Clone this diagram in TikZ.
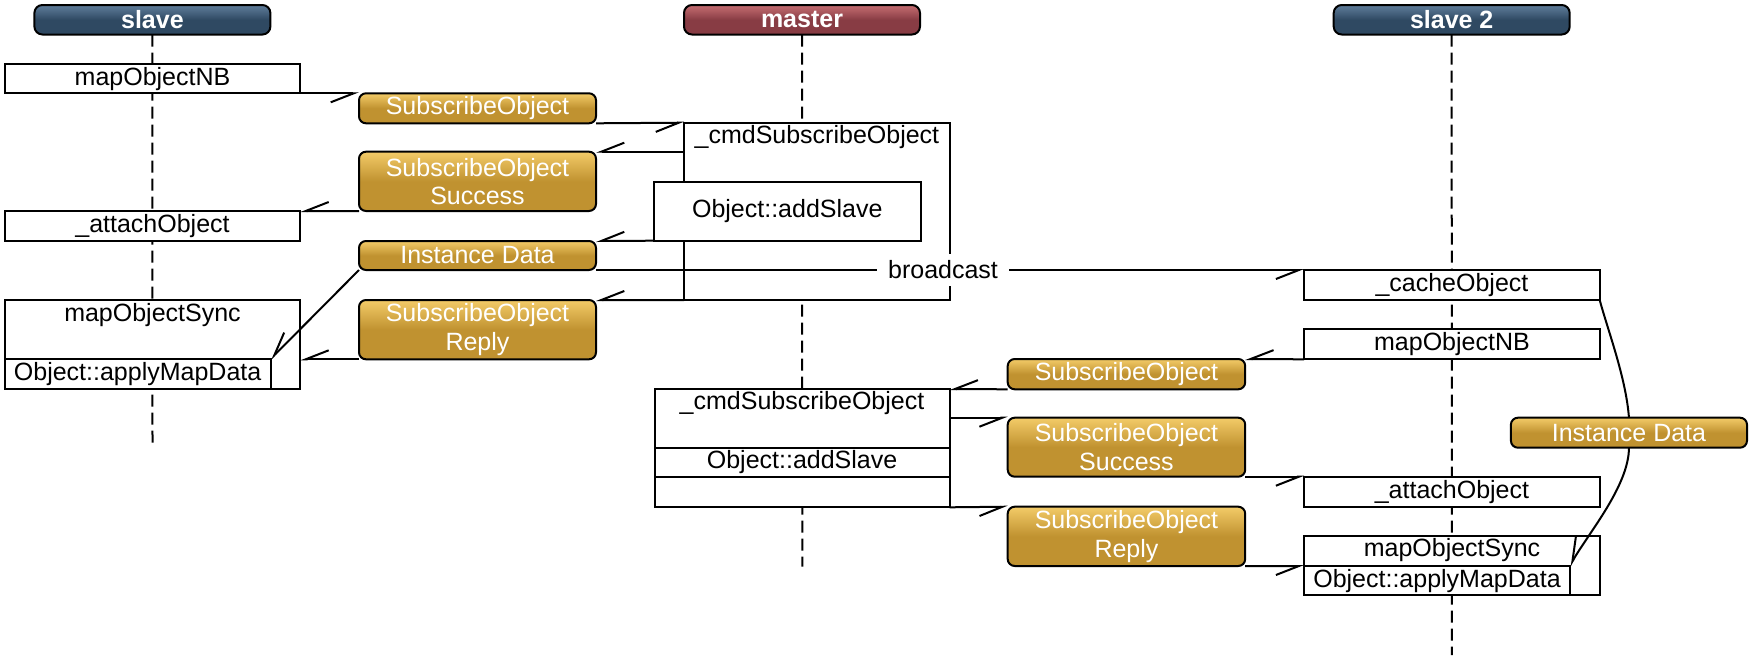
\documentclass[tikz,border=0pt]{standalone}
\usepackage{fontspec}
\setmainfont{Liberation Sans}
\usetikzlibrary{arrows.meta,calc}
\definecolor{blueTop}{RGB}{96,126,156}
\definecolor{blueBot}{RGB}{47,73,98}
\definecolor{redTop}{RGB}{198,110,114}
\definecolor{redBot}{RGB}{136,60,68}
\definecolor{goldTop}{RGB}{243,203,104}
\definecolor{goldBot}{RGB}{192,146,48}
\begin{document}
\begin{tikzpicture}[x=1pt,y=-1pt,
  font=\fontsize{25}{28.5}\selectfont,
  every node/.style={inner sep=0pt, outer sep=0pt},
  plainbox/.style={draw=black, line width=2pt, fill=white, anchor=north west, align=center},
  hdrbox/.style={draw=black, line width=2pt, rounded corners=8pt, anchor=north west,
    minimum width=236pt, minimum height=29.5pt, text=white,
    font=\fontsize{25}{28.5}\selectfont\bfseries},
  hdrblue/.style={hdrbox, top color=blueTop, bottom color=blueBot, middle color=blueBot},
  hdrred/.style={hdrbox, top color=redTop, bottom color=redBot, middle color=redBot},
  msgbox/.style={draw=black, line width=2pt, rounded corners=7pt, anchor=north west,
    align=center, text=white, top color=goldTop, bottom color=goldBot, middle color=goldBot},
  life/.style={line width=2pt, dash pattern=on 12pt off 6pt},
  msg/.style={line width=2pt, -{Straight Barb[right,length=23pt,width=18pt]}},
  plainline/.style={line width=2pt}
]
\useasboundingbox (0,0) rectangle (1750,659);

% headers
\node[hdrblue] (hS) at (34.4,5) {slave};
\node[hdrred] (hM) at (684,5) {master};
\node[hdrblue] (hS2) at (1333.7,5) {slave 2};

% lifelines
\coordinate (endS) at (152.5,443.3);
\coordinate (endM) at (802.3,566.7);
\coordinate (endS2) at (1451.8,655);
\draw[life] (hS.south) -- (endS);
\draw[life] (hM.south) -- (endM);
\draw[life] (hS2.south) -- (endS2);

% slave column
\node[plainbox, minimum width=295.8pt, minimum height=29pt] (mapNB1) at (4.6,64.3) {mapObjectNB};
\node[plainbox, minimum width=295.8pt, minimum height=29.7pt] (attach1) at (4.6,211) {\_attachObject};
\node[plainbox, minimum width=295.8pt, minimum height=89.3pt] (sync1) at (4.6,300) {};
\node (sync1t) at (152.5,315) {mapObjectSync};
\node[plainbox, minimum width=266pt, minimum height=30.3pt] (apply1) at (4.6,359) {Object::applyMapData};

% messages column 1
\node[msgbox, minimum width=237pt, minimum height=30pt] (sub1) at (359,93.3) {SubscribeObject};
\node[msgbox, minimum width=237pt, minimum height=59.3pt] (succ1) at (359,151.7) {SubscribeObject\\Success};
\node[msgbox, minimum width=237pt, minimum height=29pt] (inst1) at (359,241) {Instance Data};
\node[msgbox, minimum width=237pt, minimum height=59.3pt] (reply1) at (359,300) {SubscribeObject\\Reply};

% master first activation
\node[plainbox, minimum width=265.7pt, minimum height=177.3pt] (cmd1) at (684,122.7) {};
\node (cmd1t) at (816.9,137) {\_cmdSubscribeObject};
\node[plainbox, minimum width=266.7pt, minimum height=59pt] (add1) at (653.9,181.7) {Object::addSlave};

% master second activation
\node[plainbox, minimum width=295.1pt, minimum height=118.3pt] (cmd2) at (654.5,389) {};
\node (cmd2t) at (802,403.3) {\_cmdSubscribeObject};
\node[plainbox, minimum width=295.1pt, minimum height=28.7pt] (add2) at (654.5,448) {Object::addSlave};

% messages column 2
\node[msgbox, minimum width=237.5pt, minimum height=30.3pt] (sub2) at (1007.7,359) {SubscribeObject};
\node[msgbox, minimum width=237.5pt, minimum height=59pt] (succ2) at (1007.7,417.7) {SubscribeObject\\Success};
\node[msgbox, minimum width=237.5pt, minimum height=59.3pt] (reply2) at (1007.7,506.7) {SubscribeObject\\Reply};

% slave 2 column
\node[plainbox, minimum width=295.5pt, minimum height=30pt] (cache) at (1304.2,270) {\_cacheObject};
\node[plainbox, minimum width=295.5pt, minimum height=30pt] (mapNB2) at (1304.2,329.3) {mapObjectNB};
\node[plainbox, minimum width=295.5pt, minimum height=30.6pt] (attach2) at (1304.2,476.7) {\_attachObject};
\node[plainbox, minimum width=295.5pt, minimum height=59.3pt] (sync2) at (1304.2,536) {};
\node (sync2t) at (1452,550) {mapObjectSync};
\node[plainbox, minimum width=265.6pt, minimum height=29.3pt] (apply2) at (1304.2,566) {Object::applyMapData};
\node[msgbox, minimum width=236.1pt, minimum height=30pt] (inst2) at (1510.9,417.7) {Instance Data};

% connectors, first exchange
\draw[msg] (mapNB1.south east) -- (sub1.north west);
\draw[msg] (sub1.south east) -- (cmd1.north west);
\draw[msg] (succ1.north east -| cmd1.west) -- (succ1.north east);
\draw[msg] (succ1.south west) -- (attach1.north east);
\draw[msg] (add1.south west) -- (inst1.north east);
\draw[msg] (inst1.south west) -- (apply1.north east);
\draw[msg] (cmd1.south west) -- (reply1.north east);
\draw[msg] (reply1.south west) -- (reply1.south west -| sync1.east);
\draw[msg] (inst1.south east) -- node[pos=0.49, fill=white, inner xsep=11pt, inner ysep=7pt] (bc) {broadcast} (cache.north west);

% connectors, second exchange
\draw[msg] (mapNB2.south west) -- (sub2.north east);
\draw[msg] (sub2.south west) -- (cmd2.north east);
\draw[msg] (succ2.north west -| cmd2.east) -- (succ2.north west);
\draw[msg] (cmd2.south east) -- (reply2.north west);
\draw[msg] (succ2.south east) -- (attach2.north west);
\draw[msg] (reply2.south east) -- (apply2.north west);
\draw[plainline] (cache.south east) .. controls +(8,30) and +(-3,-40) .. (inst2.north);
\draw[msg] (inst2.south) .. controls +(0,38) and +(18,-32) .. (apply2.north east);
\end{tikzpicture}
\end{document}
